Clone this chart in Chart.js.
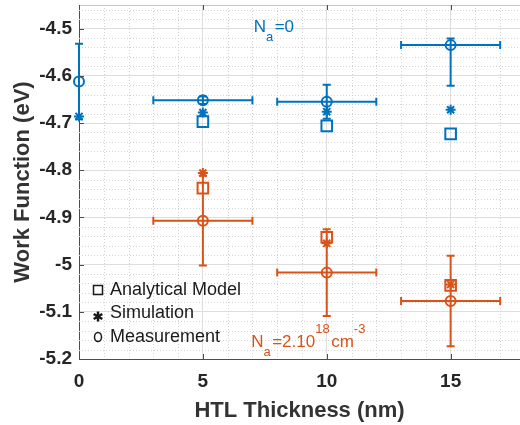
<!DOCTYPE html>
<html>
<head>
<meta charset="utf-8">
<script src="https://cdn.jsdelivr.net/npm/chart.js@4/dist/chart.umd.min.js"></script>
<style>
  body { margin: 0; background: #fff; }
  #wrap { width: 520px; height: 425px; }
</style>
</head>
<body>
<div id="wrap"><canvas id="wfChart" width="520" height="425"></canvas></div>
<script>
'use strict';
// =============== data ===============
const thickness = [0, 5, 10, 15];
const thicknessErr = [0, 2, 2, 2];

// Na = 0
const measBlue = [-4.612, -4.652, -4.655, -4.535];
const measBlueErrUp = [0.080, 0.008, 0.036, 0.014];
const measBlueErrDown = [0.080, 0.008, 0.036, 0.086];
const simBlue = [-4.686, -4.678, -4.676, -4.672];
const anaBlue = [null, -4.697, -4.706, -4.723];

// Na = 2.10^18 cm^-3
const measOrange = [null, -4.907, -5.017, -5.077];
const measOrangeErr = [null, 0.095, 0.092, 0.096];
const simOrange = [null, -4.806, -4.955, -5.042];
const anaOrange = [null, -4.838, -4.942, -5.044];

const xTicks = [0, 5, 10, 15];
const yTicks = [-5.2, -5.1, -5.0, -4.9, -4.8, -4.7, -4.6, -4.5];
const legendLabels = ['Analytical Model', 'Simulation', 'Measurement'];

const BLUE = '#0072BD';
const ORANGE = '#D95319';
const FONT = '"Liberation Sans", Arial, sans-serif';

function toPoints(values, up, down, xErr) {
    const pts = [];
    thickness.forEach((x, i) => {
        if (values[i] === null) return;
        pts.push({
            x: x,
            y: values[i],
            yUp: up ? up[i] : 0,
            yDown: down ? down[i] : 0,
            xErr: xErr ? xErr[i] : 0
        });
    });
    return pts;
}

function markerSet(label, color, style, data, radius) {
    return {
        label: label,
        data: data,
        showLine: false,
        clip: false,
        pointStyle: style,
        pointRadius: radius,
        pointHoverRadius: radius,
        pointBorderWidth: 2,
        pointBorderColor: color,
        pointBackgroundColor: 'rgba(0,0,0,0)',
        borderColor: color,
        errorBars: style === 'circle'
    };
}

// =============== plugins ===============
const minorGrid = {
    id: 'minorGrid',
    beforeDatasetsDraw(chart) {
        const {ctx, chartArea, scales: {x, y}} = chart;
        ctx.save();
        ctx.strokeStyle = '#d4d4d4';
        ctx.lineWidth = 1;
        ctx.setLineDash([1, 2]);
        for (let v = 1; v < x.max; v += 1) {
            if (v % 5 === 0) continue;
            const px = Math.round(x.getPixelForValue(v)) + 0.5;
            ctx.beginPath();
            ctx.moveTo(px, chartArea.top);
            ctx.lineTo(px, chartArea.bottom);
            ctx.stroke();
        }
        for (let k = 1; y.min + k * 0.02 < y.max; k++) {
            if (k % 5 === 0) continue;
            const py = Math.round(y.getPixelForValue(y.min + k * 0.02)) + 0.5;
            ctx.beginPath();
            ctx.moveTo(chartArea.left, py);
            ctx.lineTo(chartArea.right, py);
            ctx.stroke();
        }
        ctx.restore();
    }
};

const errorBars = {
    id: 'errorBars',
    beforeDatasetsDraw(chart) {
        const {ctx, scales: {x, y}} = chart;
        ctx.save();
        ctx.lineWidth = 2;
        chart.data.datasets.forEach(ds => {
            if (!ds.errorBars) return;
            ctx.strokeStyle = ds.borderColor;
            ds.data.forEach(p => {
                const px = x.getPixelForValue(p.x);
                const py = y.getPixelForValue(p.y);
                ctx.beginPath();
                if (p.yUp || p.yDown) {
                    const top = y.getPixelForValue(p.y + p.yUp);
                    const bot = y.getPixelForValue(p.y - p.yDown);
                    ctx.moveTo(px, top); ctx.lineTo(px, bot);
                    ctx.moveTo(px - 4, top); ctx.lineTo(px + 4, top);
                    ctx.moveTo(px - 4, bot); ctx.lineTo(px + 4, bot);
                }
                if (p.xErr) {
                    const l = x.getPixelForValue(p.x - p.xErr);
                    const r = x.getPixelForValue(p.x + p.xErr);
                    ctx.moveTo(l, py); ctx.lineTo(r, py);
                    ctx.moveTo(l, py - 4); ctx.lineTo(l, py + 4);
                    ctx.moveTo(r, py - 4); ctx.lineTo(r, py + 4);
                }
                ctx.stroke();
            });
        });
        ctx.restore();
    }
};

// rich text: parts = [text, mode] with mode '', 'sub' or 'sup'
function drawRich(ctx, parts, x, baseline, color) {
    ctx.fillStyle = color;
    ctx.textBaseline = 'alphabetic';
    ctx.textAlign = 'left';
    parts.forEach(([t, mode]) => {
        let dy = 0;
        if (mode === 'sub') { ctx.font = '13px ' + FONT; dy = 9; }
        else if (mode === 'sup') { ctx.font = '13px ' + FONT; dy = -14; }
        else ctx.font = '17px ' + FONT;
        ctx.fillText(t, x, baseline + dy);
        x += ctx.measureText(t).width + (mode ? 1.5 : 0);
    });
}

const decorations = {
    id: 'decorations',
    afterDraw(chart) {
        const {ctx, chartArea, scales: {x, y}} = chart;
        ctx.save();
        // top box line
        ctx.strokeStyle = '#c4c4c4';
        ctx.lineWidth = 1;
        ctx.beginPath();
        ctx.moveTo(chartArea.left, chartArea.top + 0.5);
        ctx.lineTo(chartArea.right, chartArea.top + 0.5);
        ctx.stroke();
        // inward tick marks
        ctx.strokeStyle = '#4d4d4d';
        ctx.beginPath();
        xTicks.forEach(v => {
            const px = Math.round(x.getPixelForValue(v)) + 0.5;
            ctx.moveTo(px, chartArea.bottom); ctx.lineTo(px, chartArea.bottom - 5);
            ctx.moveTo(px, chartArea.top); ctx.lineTo(px, chartArea.top + 5);
        });
        yTicks.forEach(v => {
            const py = Math.round(y.getPixelForValue(v)) + 0.5;
            ctx.moveTo(chartArea.left, py); ctx.lineTo(chartArea.left + 5, py);
        });
        ctx.stroke();

        // annotations
        drawRich(ctx, [['N', ''], ['a', 'sub'], ['=0', '']],
            x.getPixelForValue(7.05), y.getPixelForValue(-4.5064), BLUE);
        drawRich(ctx, [['N', ''], ['a', 'sub'], ['=2.10', ''], ['18', 'sup'], ['cm', ''], ['-3', 'sup']],
            x.getPixelForValue(6.95), y.getPixelForValue(-5.175), ORANGE);

        // legend
        const lx = chartArea.left + 19;
        ctx.strokeStyle = '#1a1a1a';
        ctx.fillStyle = '#1a1a1a';
        legendLabels.forEach((lab, i) => {
            const ly = chartArea.bottom - 69 + i * 23.5;
            ctx.beginPath();
            if (i === 0) {
                ctx.lineWidth = 1.5;
                ctx.rect(lx - 4.5, ly - 4.5, 9, 9);
            } else if (i === 1) {
                ctx.lineWidth = 2.5;
                for (let a = 0; a < 3; a++) {
                    const ang = Math.PI / 2 + a * Math.PI / 3;
                    const c = Math.cos(ang) * 5, s = Math.sin(ang) * 5;
                    ctx.moveTo(lx - c, ly + 3 - s); ctx.lineTo(lx + c, ly + 3 + s);
                }
            } else {
                ctx.lineWidth = 1.5;
                ctx.ellipse(lx, ly, 3.5, 4.5, 0, 0, Math.PI * 2);
            }
            ctx.stroke();
            ctx.font = '18px ' + FONT;
            ctx.textBaseline = 'middle';
            ctx.textAlign = 'left';
            ctx.fillText(lab, chartArea.left + 31, ly);
        });
        ctx.restore();
    }
};

// =============== chart ===============
const wfCtx = document.getElementById('wfChart').getContext('2d');

const wfChart = new Chart(wfCtx, {
    type: 'scatter',
    data: {
        datasets: [
            markerSet('Analytical Model (Na=0)', BLUE, 'rect', toPoints(anaBlue), 7.5),
            markerSet('Simulation (Na=0)', BLUE, 'star', toPoints(simBlue), 5),
            markerSet('Measurement (Na=0)', BLUE, 'circle', toPoints(measBlue, measBlueErrUp, measBlueErrDown, thicknessErr), 5),
            markerSet('Analytical Model (Na=2e18)', ORANGE, 'rect', toPoints(anaOrange), 7.5),
            markerSet('Simulation (Na=2e18)', ORANGE, 'star', toPoints(simOrange), 5),
            markerSet('Measurement (Na=2e18)', ORANGE, 'circle', toPoints(measOrange, measOrangeErr, measOrangeErr, thicknessErr), 5)
        ]
    },
    options: {
        responsive: false,
        animation: false,
        layout: { autoPadding: false, padding: { top: 5, left: 0, right: 0, bottom: 0 } },
        plugins: {
            legend: { display: false },
            tooltip: { enabled: false }
        },
        scales: {
            x: {
                type: 'linear',
                min: 0,
                max: 17.8,
                afterBuildTicks: (axis) => { axis.ticks = xTicks.map(v => ({ value: v })); },
                afterFit: (axis) => {
                    axis.height = 66;
                    axis.paddingLeft = 0;
                    axis.paddingRight = 0;
                },
                grid: { color: '#dedede', drawTicks: false },
                border: { color: '#4d4d4d', width: 1 },
                ticks: {
                    padding: 11,
                    color: '#262626',
                    font: { family: FONT, size: 19, weight: 'bold' }
                },
                title: {
                    display: true,
                    text: 'HTL Thickness (nm)',
                    color: '#333',
                    padding: { top: 1, bottom: 1 },
                    font: { family: FONT, size: 22, weight: 'bold' }
                }
            },
            y: {
                type: 'linear',
                min: -5.2,
                max: -4.45,
                afterBuildTicks: (axis) => { axis.ticks = yTicks.map(v => ({ value: v })); },
                afterFit: (axis) => {
                    axis.width = 79;
                    axis.paddingTop = 0;
                    axis.paddingBottom = 0;
                },
                grid: { color: '#dedede', drawTicks: false },
                border: { color: '#4d4d4d', width: 1 },
                ticks: {
                    padding: 7,
                    color: '#262626',
                    font: { family: FONT, size: 19, weight: 'bold' },
                    callback: (v) => String(Math.round(v * 10) / 10)
                },
                title: {
                    display: true,
                    text: 'Work Function (eV)',
                    color: '#333',
                    padding: { top: 10, bottom: 0 },
                    font: { family: FONT, size: 22, weight: 'bold' }
                }
            }
        }
    },
    plugins: [minorGrid, errorBars, decorations]
});
</script>
</body>
</html>
